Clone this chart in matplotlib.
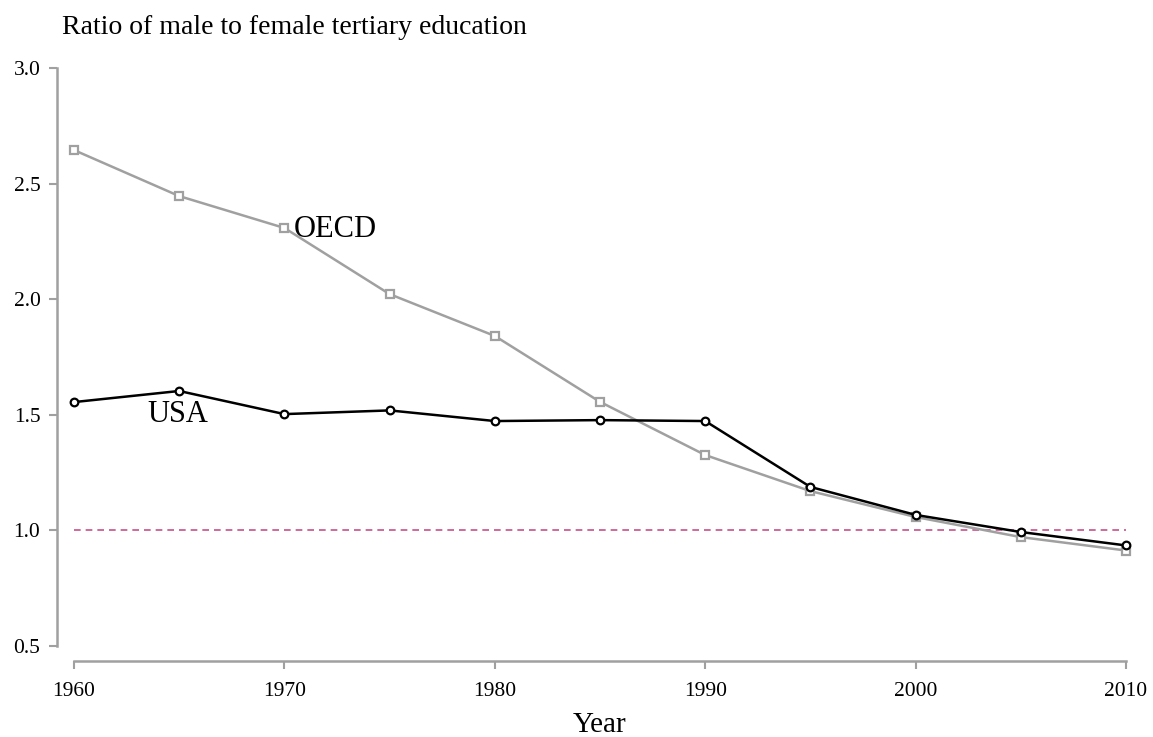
import matplotlib
matplotlib.use("Agg")
import matplotlib.pyplot as plt

years = [1960, 1965, 1970, 1975, 1980, 1985, 1990, 1995, 2000, 2005, 2010]
usa = [1.555, 1.603, 1.503, 1.519, 1.473, 1.477, 1.473, 1.188, 1.067, 0.993, 0.935]
oecd = [2.645, 2.446, 2.308, 2.022, 1.841, 1.556, 1.326, 1.170, 1.058, 0.971, 0.913]

plt.rcParams["font.family"] = ["Liberation Serif", "DejaVu Serif"]
GRIS = "#a0a0a0"

W, H = 1153, 737
fig = plt.figure(figsize=(W / 100, H / 100), dpi=100)
ax = fig.add_axes([74 / W, (H - 646) / H, (1126 - 74) / W, (646 - 68) / H])

ax.axhline(1.0, color="#c8508a", linestyle=(0, (4, 3)), linewidth=1.2, zorder=1)
ax.plot(years, oecd, color=GRIS, linewidth=1.8, marker="s", markersize=5.5,
        markerfacecolor="white", markeredgewidth=1.6, zorder=2, clip_on=False)
ax.plot(years, usa, color="black", linewidth=1.8, marker="o", markersize=5.5,
        markerfacecolor="white", markeredgewidth=1.6, zorder=3, clip_on=False)

ax.text(1970.45, 2.30, "OECD", fontsize=22, va="center", ha="left")
ax.text(1963.5, 1.50, "USA", fontsize=22, va="center", ha="left")

ax.set_xlim(1960, 2010)
ax.set_ylim(0.5, 3.0)
ax.set_xticks([1960, 1970, 1980, 1990, 2000, 2010])
ax.set_yticks([0.5, 1.0, 1.5, 2.0, 2.5, 3.0])
ax.set_yticklabels([f"{v:.1f}" for v in [0.5, 1.0, 1.5, 2.0, 2.5, 3.0]])
ax.tick_params(labelsize=15.5, color=GRIS, length=6, width=1.5)
ax.tick_params(axis="x", pad=9)
ax.tick_params(axis="y", pad=6)

for s in ["top", "right"]:
    ax.spines[s].set_visible(False)
ax.spines["left"].set_position(("outward", 12.2))
ax.spines["bottom"].set_position(("outward", 10.8))
for s in ["left", "bottom"]:
    ax.spines[s].set_color(GRIS)
    ax.spines[s].set_linewidth(1.8)

fig.text(62 / W, 1 - 28 / H, "Ratio of male to female tertiary education",
         fontsize=20, va="center", ha="left")
fig.text(600 / W, 1 - 725 / H, "Year", fontsize=21, va="center", ha="center")

fig.savefig("out.png", dpi=100)
